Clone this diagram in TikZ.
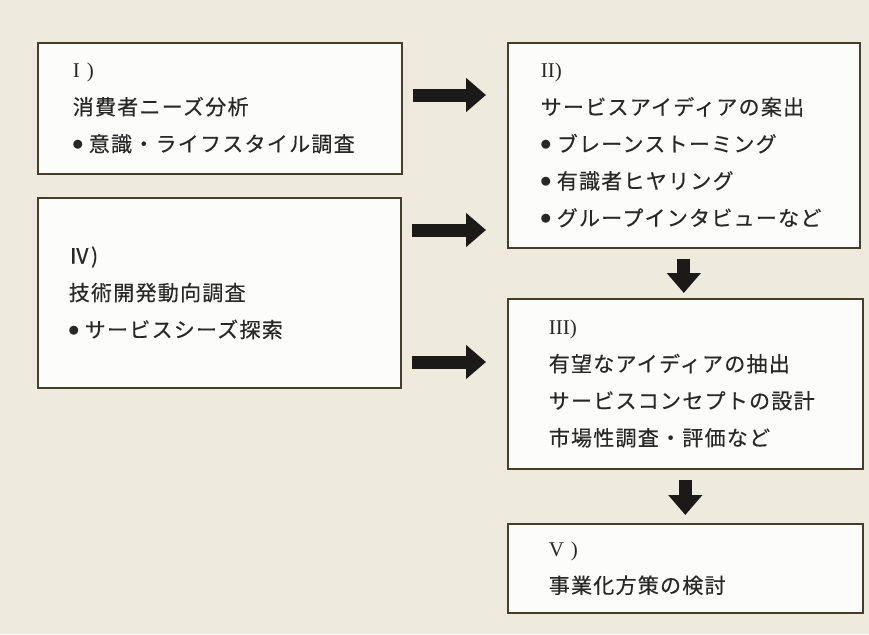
\documentclass[tikz,border=0pt]{standalone}
\usepackage{fontspec}
\setmainfont{Liberation Serif}
\newfontfamily\jp[LetterSpace=6,FakeBold=0.35]{Noto Sans CJK JP}
\newfontfamily\jpb{Noto Sans CJK JP}
\usetikzlibrary{arrows.meta}
\definecolor{bg}{RGB}{238,234,222}
\definecolor{boxfill}{RGB}{252,252,250}
\definecolor{boxline}{RGB}{70,62,42}
\definecolor{txt}{RGB}{40,40,40}
\definecolor{arrowc}{RGB}{28,26,24}
\newcommand{\bul}{\raisebox{3.5pt}{\jpb\fontsize{10}{10}\selectfont ●}\hspace{6pt}}
\begin{document}
\begin{tikzpicture}[x=1pt,y=-1pt,
  box/.style={draw=boxline, line width=1.6pt, fill=boxfill, anchor=north west,
    align=left, text=txt, inner xsep=0pt, inner ysep=0pt,
    font=\jp\fontsize{21}{37}\selectfont},
  blk/.style={draw=arrowc, line width=13pt, -{Triangle[length=20pt,width=33pt]}}]
\fill[bg] (0,0) rectangle (869,634);
\useasboundingbox (0,0) rectangle (869,634);

\node[box, minimum width=364pt, minimum height=131pt, text width=294pt] (I) at (37,42)
  {{\rmfamily I )}\\消費者ニーズ分析\\\bul 意識・ライフスタイル調査};
\node[box, minimum width=363pt, minimum height=190pt, text width=301pt] (IV) at (37,197)
  {Ⅳ)\\技術開発動向調査\\\bul サービスシーズ探索};
\node[box, minimum width=352pt, minimum height=205pt, text width=286pt] (II) at (507,42)
  {{\rmfamily II)}\\サービスアイディアの案出\\\bul ブレーンストーミング\\\bul 有識者ヒヤリング\\\bul グループインタビューなど};
\node[box, minimum width=355pt, minimum height=170pt, text width=273pt] (III) at (507,298)
  {{\rmfamily III)}\\有望なアイディアの抽出\\サービスコンセプトの設計\\市場性調査・評価など};
\node[box, minimum width=355pt, minimum height=89pt, text width=273pt] (V) at (507,523)
  {{\rmfamily V )}\\事業化方策の検討};

\coordinate (a1) at ([yshift=-53pt]I.north east);
\coordinate (a2) at ([yshift=-33pt]IV.north east);
\coordinate (a3) at ([yshift=-165pt]IV.north east);
\draw[blk, shorten <=10pt, shorten >=21pt] (a1) -- (a1 -| II.west);
\draw[blk, shorten <=10pt, shorten >=21pt] (a2) -- (a2 -| II.west);
\draw[blk, shorten <=10pt, shorten >=21pt] (a3) -- (a3 -| III.west);
\draw[blk, shorten <=10pt, shorten >=5pt] (II.south) -- (II.south |- III.north);
\draw[blk, shorten <=10pt, shorten >=8pt] (III.south) -- (III.south |- V.north);
\end{tikzpicture}
\end{document}
